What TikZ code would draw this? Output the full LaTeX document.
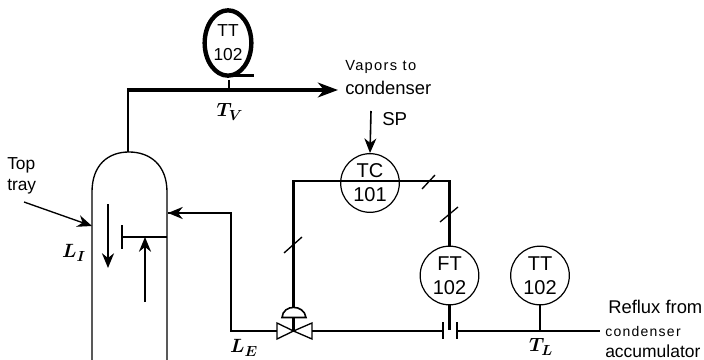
\documentclass[tikz,border=0pt]{standalone}
\usepackage{fontspec}
\setmainfont{Liberation Sans}
\newfontfamily\spacedfont[LetterSpace=9]{Liberation Sans}
\usetikzlibrary{arrows.meta,shapes.geometric}

\begin{document}
\begin{tikzpicture}[
  x=0.75pt, y=-0.75pt,
  >={Stealth[length=11pt,width=9pt,inset=3.5pt]},
  instr/.style={draw, circle, line width=0.9pt, minimum size=44pt, inner sep=0pt,
                align=center, font=\fontsize{15}{18}\selectfont},
  txt/.style={anchor=west, inner sep=0pt, font=\fontsize{13.8}{16}\selectfont},
  smalltxt/.style={anchor=west, inner sep=0pt, font=\fontsize{10.5}{12}\spacedfont},
  var/.style={inner sep=0pt, font=\fontsize{15}{16}\selectfont\boldmath},
  vessel/.style={line width=1pt},
  pipe/.style={line width=1.7pt},
  sig/.style={line width=1.6pt},
  tick/.style={line width=1pt}
]
\useasboundingbox (0,0) rectangle (704,360);

% Column with top tray
\draw[vessel] (92,360) -- (92,192) .. controls (92,165) and (108,152) .. (129,152)
  .. controls (150,152) and (167,165) .. (167,192) -- (167,360);
\coordinate (dome) at (129,152);
\coordinate (walltray) at (92,226);
\coordinate (wallfeed) at (168,213);
\coordinate (trayend) at (167,237);
\coordinate (weir) at (122,237);
\draw[vessel] (trayend) -- (weir);
\draw[vessel] (122,225) -- (122,249);
\draw[sig,->] (108,204) -- (108,268);
\draw[sig,->] (145,302) -- (145,237);

% Vapor line and its transmitter
\coordinate (vapout) at (338,90);
\coordinate (vapturn) at (128,90);
\draw[line width=1.6pt] (dome -| vapturn) -- (vapturn);
\draw[line width=3pt, -{Stealth[length=15pt,width=11pt,inset=4.5pt]}] (126.9,90) -- (vapout);
\node[draw, ellipse, line width=3.3pt, minimum width=35pt, minimum height=49pt, inner sep=0pt,
      align=center, font=\fontsize{13}{18}\selectfont] (ttv) at (228,43) {TT\\102};
\coordinate (qtail) at (254,75.5);
\draw[line width=2.8pt] (226,75.5) -- (qtail);
\coordinate (ttvtap) at (229,80);
\draw[tick] (ttvtap) -- (ttvtap |- vapout);
\node[var] (tv) at (230,112) {$T_V$};

% Controller
\node[instr] (tc) at (370,183) {TC\\101};
\coordinate (spin) at (371,111);
\draw[line width=1.2pt,->] (spin) -- (tc.north);
\node[txt, font=\fontsize{14}{16}\selectfont] (sp) at (382,119) {SP};
\node[smalltxt, font=\fontsize{11}{12}\spacedfont] (vapors) at (345,67) {Vapors to};
\node[txt] (cond) at (345,88) {condenser};

% Reflux line
\coordinate (valve) at (293.5,331);
\coordinate (valvel) at (277,331);
\coordinate (valver) at (312,331);
\coordinate (platel) at (443,331);
\coordinate (plater) at (457,331);
\coordinate (refluxin) at (600,331);
\coordinate (refluxturn) at (231,331);
\draw[pipe] (valver) -- (platel);
\draw[pipe] (plater) -- (refluxin);
\draw[pipe] (valvel) -- (refluxturn) |- (wallfeed);
\draw[pipe,->] (231,213) -- (wallfeed);
\draw[vessel] (443,322) -- (443,339);
\draw[vessel] (457,322) -- (457,339);
\draw[vessel] (valve) -- (277,323) -- (277,339) -- cycle;
\draw[vessel] (valve) -- (312,323) -- (312,339) -- cycle;

% Actuator
\coordinate (actbase) at (293.5,317);
\coordinate (acttop) at (293.5,308);
\draw[line width=1.2pt] (282,317.5) .. controls (283,304) and (304,304) .. (306,317.5) -- cycle;
\draw[sig] (actbase) -- (valve);

% Transmitters on the reflux line
\node[instr] (ft) at (449.5,275.5) {FT\\102};
\node[instr] (ttl) at (540,275.5) {TT\\102};
\draw[sig] (ft.south) -- (449.5,330);
\draw[sig] (ttl.south) -- (ttl.south |- refluxin);

% Signal loop
\draw[sig] (acttop) |- (ft.north |- 0,181) -- (ft.north);
\draw[tick] (284,253) -- (302,237);
\draw[tick] (422,189) -- (435,175);
\draw[tick] (440,222) -- (458,207);

% Labels
\node[txt, font=\fontsize{13}{16}\selectfont] (top) at (7,165) {Top};
\node[txt, font=\fontsize{13}{16}\selectfont] (tray) at (7,187) {tray};
\coordinate (trayarrow) at (24,202);
\draw[line width=1pt, ->] (trayarrow) -- (walltray);
\node[var] (li) at (74,253) {$L_I$};
\node[var] (le) at (244,348) {$L_E$};
\node[var] (tl) at (541,347) {$T_L$};
\node[txt] (reflux) at (608,307) {Reflux from};
\node[smalltxt] (condb) at (605,331) {condenser};
\node[txt, font=\fontsize{13.1}{16}\selectfont] (accum) at (605,351) {accumulator};

\end{tikzpicture}
\end{document}
